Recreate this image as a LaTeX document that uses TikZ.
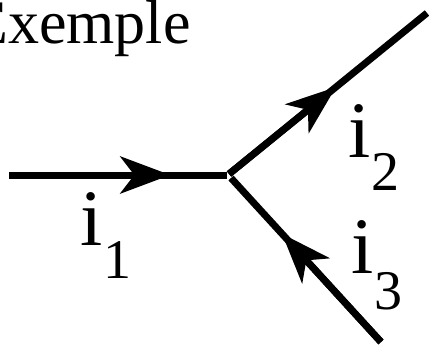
\documentclass[tikz,border=0pt]{standalone}
\usepackage{fontspec}
\setmainfont{Liberation Serif}
\usetikzlibrary{arrows.meta,calc}
\begin{document}
\begin{tikzpicture}[x=1pt,y=-1pt,
  wire/.style={line width=7pt},
  head/.style={line width=7pt,-{Stealth[length=50pt,width=37pt,inset=14pt]}},
  lbl/.style={anchor=base west,inner sep=0pt,font=\fontsize{80}{80}\selectfont}]
\useasboundingbox (0,0) rectangle (429,348);
\node[anchor=base west,inner sep=0pt,font=\fontsize{62}{62}\selectfont] (title) at (-30,43) {Exemple};
% wires
\coordinate (a) at (9,175);
\coordinate (j1) at (227,175);
\coordinate (j2) at (229,174);
\coordinate (b) at (427,13);
\coordinate (j3) at (231,178);
\coordinate (c) at (381,342);
\draw[wire] (a) -- (j1);
\draw[wire] (j2) -- (b);
\draw[wire] (c) -- (j3);
% arrowheads
\draw[head] (a) -- ($(a)!0.74!(j1)$);
\draw[head] (j2) -- ($(j2)!0.54!(b)$);
\draw[head] (c) -- ($(c)!0.66!(j3)$);
% labels
\node[lbl] (i1) at (80.7,245) {i\raisebox{-33pt}{\fontsize{56}{56}\selectfont 1}};
\node[lbl] (i2) at (348.7,157) {i\raisebox{-33pt}{\fontsize{56}{56}\selectfont 2}};
\node[lbl] (i3) at (351.7,273) {i\raisebox{-36pt}{\fontsize{56}{56}\selectfont 3}};
\end{tikzpicture}
\end{document}
